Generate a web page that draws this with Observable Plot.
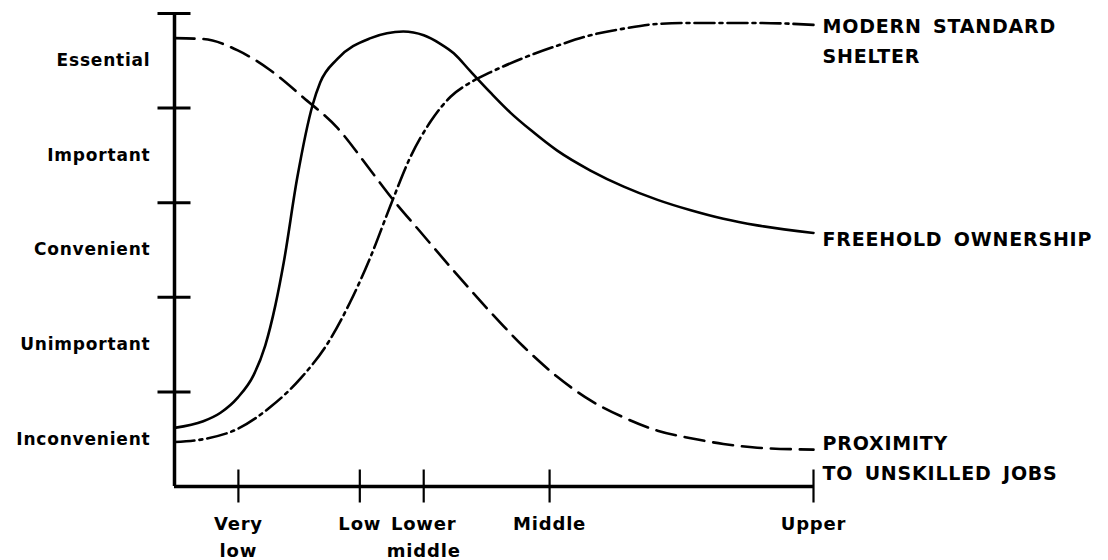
<!DOCTYPE html>
<html>
<head>
<meta charset="utf-8">
<script src="https://cdn.jsdelivr.net/npm/d3@7"></script>
<script src="https://cdn.jsdelivr.net/npm/@observablehq/plot@0.6"></script>
<style>
  html, body { margin: 0; padding: 0; background: #fff; }
  #chart { width: 1108px; height: 560px; }
</style>
</head>
<body>
<div id="chart"></div>
<script>
// ---- data (x: income scale 0–10, y: importance scale 0–5) ----
const incomeTicks = [1.0, 2.9, 3.9, 5.87, 10];
const incomeLabels = ["Very\nlow", "Low", "Lower\nmiddle", "Middle", "Upper"];

const importanceTicks = [1, 2, 3, 4, 5];
const importanceLabelPos = [0.5, 1.5, 2.5, 3.5, 4.5];
const importanceLabels = ["Inconvenient", "Unimportant", "Convenient", "Important", "Essential"];

const proximityX = [0, 0.45, 0.99, 1.5, 2.02, 2.55, 3.07, 3.41, 3.85, 4.37, 4.95, 5.46, 5.99, 6.51, 7.03, 7.56, 8.08, 8.59, 9.12, 10];
const proximityY = [4.74, 4.73, 4.61, 4.4, 4.11, 3.79, 3.34, 3.04, 2.69, 2.28, 1.84, 1.48, 1.16, 0.91, 0.73, 0.59, 0.51, 0.45, 0.41, 0.39];

const freeholdX = [0, 0.45, 0.72, 0.99, 1.24, 1.42, 1.58, 1.71, 1.92, 2.16, 2.28, 2.55, 3.07, 3.58, 3.9, 4.16, 4.37, 4.63, 4.95, 5.26, 5.57, 5.99, 6.51, 7.03, 7.56, 8.08, 8.59, 9.12, 10];
const freeholdY = [0.62, 0.69, 0.78, 0.94, 1.18, 1.49, 1.92, 2.37, 3.26, 4.03, 4.27, 4.52, 4.74, 4.81, 4.77, 4.68, 4.58, 4.39, 4.16, 3.95, 3.77, 3.55, 3.34, 3.17, 3.03, 2.92, 2.83, 2.76, 2.68];

const shelterX = [0, 0.45, 0.99, 1.5, 1.97, 2.44, 2.75, 3.07, 3.38, 3.69, 4.01, 4.32, 4.63, 4.95, 5.46, 5.99, 6.51, 7.03, 7.56, 8.08, 8.59, 9.12, 10];
const shelterY = [0.47, 0.5, 0.61, 0.84, 1.14, 1.56, 1.95, 2.43, 2.97, 3.48, 3.86, 4.12, 4.27, 4.38, 4.53, 4.66, 4.77, 4.84, 4.89, 4.9, 4.9, 4.9, 4.88];

const seriesNames = ["MODERN STANDARD\nSHELTER", "FREEHOLD OWNERSHIP", "PROXIMITY\nTO UNSKILLED JOBS"];

// ---- build tables ----
const toRows = (xs, ys) => xs.map((x, i) => ({x, y: ys[i]}));
const shelter = toRows(shelterX, shelterY);
const freehold = toRows(freeholdX, freeholdY);
const proximity = toRows(proximityX, proximityY);
const ends = [shelter, freehold, proximity].map((s, i) => ({...s[s.length - 1], name: seriesNames[i]}));

const xLabelOf = new Map(incomeTicks.map((t, i) => [t, incomeLabels[i]]));
const yLabelOf = new Map(importanceLabelPos.map((t, i) => [t, importanceLabels[i]]));

const font = "'DejaVu Sans', sans-serif";
const lineStyle = {x: "x", y: "y", stroke: "black", strokeWidth: 2.6, curve: "monotone-x"};
const endLabel = {x: "x", y: "y", text: "name", textAnchor: "start", lineAnchor: "top", dx: 9,
  fontSize: 19, fontWeight: "bold", lineHeight: 1.58};

const chart = Plot.plot({
  width: 1108,
  height: 560,
  marginLeft: 174,
  marginRight: 295,
  marginTop: 13,
  marginBottom: 74,
  x: {domain: [0, 10], axis: null},
  y: {domain: [0, 5], axis: null},
  style: {fontFamily: font, background: "white", color: "black", letterSpacing: "0.8px", wordSpacing: "4px"},
  marks: [
    // axes lines
    Plot.ruleX([0], {strokeWidth: 3.5}),
    Plot.ruleY([0], {strokeWidth: 3.5}),
    // y ticks crossing the axis
    Plot.axisY({ticks: importanceTicks, tickSize: 33, dx: 16.5, strokeWidth: 3, fill: "none", label: null}),
    // x ticks crossing the axis
    Plot.axisX({ticks: incomeTicks, tickSize: 33, dy: -16.5, strokeWidth: 2.2, fill: "none", label: null}),
    // y category labels
    Plot.axisY({ticks: importanceLabelPos, tickSize: 0, tickPadding: 24, tickFormat: d => yLabelOf.get(d),
      fontSize: 17, fontWeight: "bold", label: null}),
    // x category labels
    Plot.axisX({ticks: incomeTicks, tickSize: 0, tickPadding: 24, tickFormat: d => xLabelOf.get(d),
      fontSize: 18, fontWeight: "bold", lineHeight: 1.5, label: null}),
    // curves
    Plot.line(proximity, {...lineStyle, strokeDasharray: "20,9"}),
    Plot.line(freehold, {...lineStyle}),
    Plot.line(shelter, {...lineStyle, strokeDasharray: "20,5,3,5"}),
    // end labels
    Plot.text([ends[0]], {...endLabel, dy: -13}),
    Plot.text([ends[1]], {...endLabel, dy: -8}),
    Plot.text([ends[2]], {...endLabel, dy: -21})
  ]
});
document.getElementById("chart").appendChild(chart);
</script>
</body>
</html>
